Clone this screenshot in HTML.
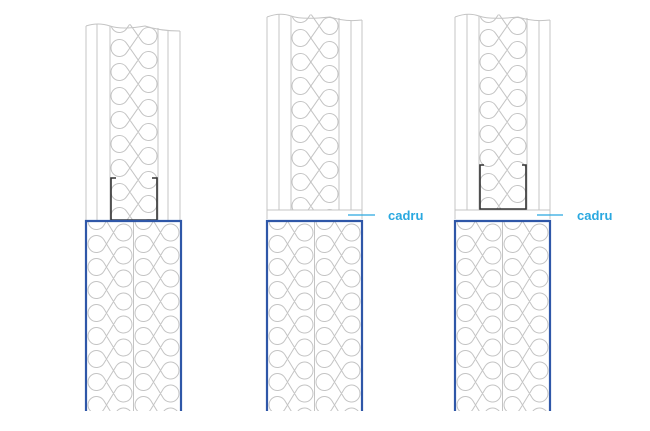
<!DOCTYPE html>
<html><head><meta charset="utf-8"><style>
html,body{margin:0;padding:0;background:#fff;width:650px;height:431px;overflow:hidden}
svg{display:block}
</style></head><body>
<svg id="s" width="650" height="431" viewBox="0 0 650 431" xmlns="http://www.w3.org/2000/svg">
<defs>
<clipPath id="c1"><path d="M110,27 Q130,22 145,26 Q152,28 158,29 L158,220 L110,220Z"/></clipPath>
<clipPath id="c2"><path d="M291,17 Q310,12 330,17 Q335,18 339,19 L339,210 L291,210Z"/></clipPath>
<clipPath id="c3"><path d="M479,17 Q498,12 518,17 Q523,18 527,19 L527,210 L479,210Z"/></clipPath>
<clipPath id="c4"><rect x="86" y="221" width="95" height="190"/></clipPath>
<clipPath id="c5"><rect x="267" y="221" width="95" height="190"/></clipPath>
<clipPath id="c6"><rect x="455" y="221" width="95" height="190"/></clipPath>
</defs>

<g id="ins" fill="none" stroke="#c4c4c4" stroke-width="1"></g>

<g stroke="#c4c4c4" fill="none" stroke-width="1">
<path d="M86,26 Q98,22 110,26 T145,26 Q160,31 180,31"/>
<line x1="86" y1="26" x2="86" y2="220"/><line x1="97" y1="24" x2="97" y2="220"/>
<line x1="110" y1="26" x2="110" y2="220"/><line x1="158" y1="28" x2="158" y2="220"/>
<line x1="168" y1="30" x2="168" y2="220"/><line x1="180" y1="31" x2="180" y2="220"/>
</g>
<path d="M116,178 L111,178 L111,220 L157,220 L157,178 L152,178" fill="none" stroke="#333" stroke-width="1.6"/>

<g stroke="#c4c4c4" fill="none" stroke-width="1">
<path d="M267,17 Q280,12 291,16 T330,17 Q345,22 362,20"/>
<line x1="267" y1="17" x2="267" y2="219"/><line x1="279" y1="14" x2="279" y2="210"/>
<line x1="291" y1="16" x2="291" y2="210"/><line x1="339" y1="18" x2="339" y2="210"/>
<line x1="351" y1="21" x2="351" y2="210"/><line x1="362" y1="20" x2="362" y2="219"/>
<line x1="267" y1="210" x2="362" y2="210"/>
</g>
<line x1="348" y1="215" x2="375" y2="215" stroke="#29a8e0" stroke-width="1.3"/>
<text x="388" y="220" font-family="Liberation Sans, sans-serif" font-size="13" font-weight="bold" fill="#29a8e0">cadru</text>

<g stroke="#c4c4c4" fill="none" stroke-width="1">
<path d="M455,17 Q468,12 479,16 T518,17 Q533,22 550,20"/>
<line x1="455" y1="17" x2="455" y2="219"/><line x1="467" y1="14" x2="467" y2="210"/>
<line x1="479" y1="16" x2="479" y2="210"/><line x1="527" y1="18" x2="527" y2="210"/>
<line x1="539" y1="21" x2="539" y2="210"/><line x1="550" y1="20" x2="550" y2="219"/>
<line x1="455" y1="210" x2="550" y2="210"/>
</g>
<path d="M484,165 L480,165 L480,209 L526,209 L526,165 L522,165" fill="none" stroke="#333" stroke-width="1.6"/>
<line x1="537" y1="215" x2="563" y2="215" stroke="#29a8e0" stroke-width="1.3"/>
<text x="577" y="220" font-family="Liberation Sans, sans-serif" font-size="13" font-weight="bold" fill="#29a8e0">cadru</text>

<line x1="133.5" y1="221" x2="133.5" y2="411" stroke="#c4c4c4"/>
<path d="M86,411 L86,221 L181,221 L181,411" fill="none" stroke="#2f57a8" stroke-width="2.2"/>
<line x1="314.5" y1="221" x2="314.5" y2="411" stroke="#c4c4c4"/>
<path d="M267,411 L267,221 L362,221 L362,411" fill="none" stroke="#2f57a8" stroke-width="2.2"/>
<line x1="502.5" y1="221" x2="502.5" y2="411" stroke="#c4c4c4"/>
<path d="M455,411 L455,221 L550,221 L550,411" fill="none" stroke="#2f57a8" stroke-width="2.2"/>
</svg>
<script>
(function(){
var g=document.getElementById('ins'),NS='http://www.w3.org/2000/svg';
function f(v){return v.toFixed(2);}
function col(x0,x1,y0,y1,h,clip,off){
  var r=8.5;
  var grp=document.createElementNS(NS,'g');grp.setAttribute('clip-path','url(#'+clip+')');
  var C=[],i=0,y=y0-4*h+off;
  while(y<y1+4*h){var left=(i%2==0);C.push([left?x0+r:x1-r,y,left]);y+=h;i++;}
  var outs=[],ins=[];
  for(var j=0;j<C.length-1;j++){
    var a=C[j],b=C[j+1],mx=(a[0]+b[0])/2,my=(a[1]+b[1])/2;
    var dx=a[0]-mx,dy=a[1]-my,hl=Math.sqrt(dx*dx+dy*dy);
    var al=Math.asin(Math.min(0.99,r/hl)),tl=Math.sqrt(Math.max(0,hl*hl-r*r));
    var ux=dx/hl,uy=dy/hl,best=null;
    [al,-al].forEach(function(s){
      var vx=ux*Math.cos(s)-uy*Math.sin(s),vy=ux*Math.sin(s)+uy*Math.cos(s);
      var px=mx+vx*tl,py=my+vy*tl;
      if(best===null||py<best[1])best=[px,py];
    });
    outs[j]=best;ins[j+1]=[2*mx-best[0],2*my-best[1]];
  }
  var d='M'+f(outs[0][0])+','+f(outs[0][1]);
  for(var j=1;j<C.length-1;j++){
    d+=' L'+f(ins[j][0])+','+f(ins[j][1]);
    d+=' A'+r+','+r+' 0 1 '+(C[j][2]?1:0)+' '+f(outs[j][0])+','+f(outs[j][1]);
  }
  var p=document.createElementNS(NS,'path');p.setAttribute('d',d);grp.appendChild(p);
  g.appendChild(grp);
}
col(111,157,20,220,12,'c1',4);
col(292,338,10,210,12,'c2',4);
col(480,526,10,210,12,'c3',4);
var L=[[86,'c4'],[267,'c5'],[455,'c6']];
L.forEach(function(a){col(a[0]+2,a[0]+46,221,411,11.5,a[1],0);col(a[0]+49,a[0]+93,221,411,11.5,a[1],0);});
})();
</script>
</body></html>
